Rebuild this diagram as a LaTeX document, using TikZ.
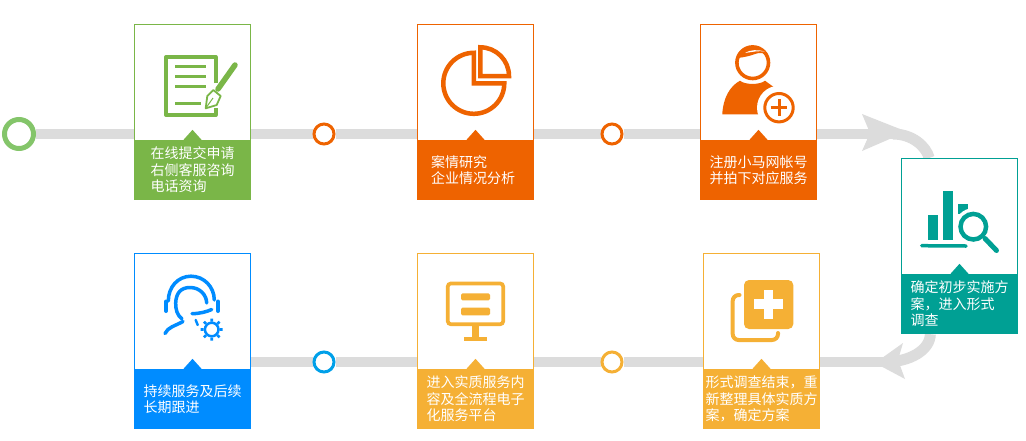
\documentclass[tikz,border=0pt]{standalone}
\usepackage{fontspec}
\usepackage{tikz}
\usetikzlibrary{backgrounds}
\setmainfont{Noto Sans CJK SC}
\definecolor{LeafGreen}{RGB}{122, 182, 72}
\definecolor{RingGreen}{RGB}{132, 197, 106}
\definecolor{CaseOrange}{RGB}{238, 99, 0}
\definecolor{SeaTeal}{RGB}{0, 160, 148}
\definecolor{SunAmber}{RGB}{245, 176, 53}
\definecolor{SkyBlue}{RGB}{0, 140, 255}
\definecolor{RingBlue}{RGB}{0, 160, 233}
\definecolor{TrackGrey}{RGB}{220, 220, 220}

\begin{document}
\begin{tikzpicture}[x=1pt, y=-1pt, line cap=butt]
    \tikzstyle{cardbox} = [rectangle, draw=#1, fill=white, line width=1pt, minimum width=116pt, minimum height=175pt, inner sep=0pt]
    \tikzstyle{cardfoot} = [rectangle, fill=#1, text=white, minimum width=117pt, minimum height=60pt, inner sep=0pt, align=left, font=\fontsize{14}{16.5}\selectfont]
    \tikzstyle{ringdot} = [circle, draw=#1, fill=white, line width=3pt, minimum size=20pt, inner sep=0pt]
    \tikzstyle{track} = [draw=TrackGrey, line width=10pt]
    \useasboundingbox (0,0) rectangle (1026,440);

    % stops on the two tracks
    \node [circle, draw=RingGreen, fill=white, line width=5pt, minimum size=29pt, inner sep=0pt] (start) at (19,134) {};
    \node [ringdot=CaseOrange] (stopa) at (324,134) {};
    \node [ringdot=CaseOrange] (stopb) at (612,134) {};
    \node [ringdot=SunAmber] (stopc) at (612,362) {};
    \node [ringdot=RingBlue] (stopd) at (324,362) {};

    % cards
    \node [cardbox=LeafGreen] (apply) at (192.5,112) {};
    \node [cardfoot=LeafGreen] (applyfoot) at (192.5,170) {在线提交申请\\右侧客服咨询\\电话资询};
    \node [cardbox=CaseOrange] (analyse) at (475.5,112) {};
    \node [cardfoot=CaseOrange] (analysefoot) at (475.5,170) {案情研究\\企业情况分析\hspace*{5pt}};
    \node [cardbox=CaseOrange] (register) at (758.5,112) {};
    \node [cardfoot=CaseOrange] (registerfoot) at (758.5,170) {注册小马网帐号\\并拍下对应服务};
    \node [cardbox=SeaTeal] (confirm) at (959.5,246) {};
    \node [cardfoot=SeaTeal] (confirmfoot) at (959.5,304) {确定初步实施方\\案，进入形式\\调查};
    \node [cardbox=SunAmber] (review) at (761.5,341) {};
    \node [cardfoot=SunAmber] (reviewfoot) at (761.5,399) {形式调查结束，重\\新整理具体实质方\\案，确定方案};
    \node [cardbox=SunAmber] (platform) at (475.5,341) {};
    \node [cardfoot=SunAmber] (platformfoot) at (475.5,399) {进入实质服务内\\容及全流程电子\\化服务平台};
    \node [cardbox=SkyBlue] (followup) at (192.5,341) {};
    \node [cardfoot=SkyBlue] (followupfoot) at (192.5,399) {持续服务及后续\\长期跟进};

    % tips on top of the feet
    \fill [LeafGreen] (applyfoot.north) ++(-9,0) -- ++(9,-10) -- ++(9,10) -- cycle;
    \fill [CaseOrange] (analysefoot.north) ++(-9,0) -- ++(9,-10) -- ++(9,10) -- cycle;
    \fill [CaseOrange] (registerfoot.north) ++(-9,0) -- ++(9,-10) -- ++(9,10) -- cycle;
    \fill [SeaTeal] (confirmfoot.north) ++(-9,0) -- ++(9,-10) -- ++(9,10) -- cycle;
    \fill [SunAmber] (reviewfoot.north) ++(-9,0) -- ++(9,-10) -- ++(9,10) -- cycle;
    \fill [SunAmber] (platformfoot.north) ++(-9,0) -- ++(9,-10) -- ++(9,10) -- cycle;
    \fill [SkyBlue] (followupfoot.north) ++(-9,0) -- ++(9,-10) -- ++(9,10) -- cycle;

    % tracks, behind everything
    \coordinate (turntop) at (893,134);
    \coordinate (turnlow) at (885,362);
    \begin{scope}[on background layer]
      \draw [track] (start) -- (stopa);
      \draw [track] (stopa) -- (stopb);
      \draw [track] (stopb) -- (turntop);
      \draw [track, line width=11pt] (turntop) .. controls (912,134) and (926,146) .. (confirm.109);
      \fill [TrackGrey] (862,114) -- (905,131) -- (892,138) -- (862,151) -- (870,133) -- cycle;
      \draw [track, line width=11pt] (confirmfoot.226) .. controls (930,350) and (910,362) .. (turnlow);
      \draw [track] (turnlow) -- (stopc);
      \draw [track] (stopc) -- (stopd);
      \draw [track] (stopd) -- (stopd -| followup.east);
      \fill [TrackGrey] (903,343) -- (875,363) -- (905,379) -- (898,360) -- cycle;
    \end{scope}

    % form and pen
    \draw [LeafGreen, line width=4pt, line join=round] (215.5,83) -- (215.5,57) -- (166,57) -- (166,115) -- (215.5,115) -- (215.5,108);
    \draw [LeafGreen, line width=3pt] (175,66.7) -- (205.7,66.7) (175,76.7) -- (205.7,76.7) (175,86.7) -- (205.7,86.7) (175,103.3) -- (201,103.3);
    \draw [LeafGreen, line width=5.5pt, line cap=round] (235,65) -- (218,89);
    \draw [LeafGreen, fill=white, line width=1.8pt, line join=round] (213.3,90) -- (220.7,96) -- (216.7,105) -- (205.7,108.3) -- (207.3,96) -- cycle;
    \draw [LeafGreen, line width=1pt] (205.7,108.3) -- (213,98);

    % pie chart
    \draw [CaseOrange, line width=4.5pt, line join=miter] (473.8,83.3) -- (473.8,52.8) arc [start angle=90, end angle=360, radius=30.5pt] -- cycle;
    \draw [CaseOrange, line width=4.5pt, line join=miter] (480.3,76) -- (480.3,47.3) arc [start angle=90, end angle=0, radius=28.7pt] -- cycle;

    % person with plus
    \draw [CaseOrange, line width=3.6pt] (752.7,62.7) circle [radius=15.8pt];
    \fill [CaseOrange] (738,58) .. controls (745,57) and (750,56) .. (755,54) .. controls (760,52) and (765,53) .. (767.5,56) .. controls (764,44) and (742,44) .. (738,58) -- cycle;
    \fill [white] (745,53) .. controls (750,49.5) and (758,49.5) .. (765,51.5) .. controls (758,50.5) and (752,52) .. (745,53) -- cycle;
    \fill [CaseOrange] (722.3,114.3) .. controls (723,98) and (730,86) .. (740,80.7) .. controls (745,85) and (760,85) .. (765,80.7) -- (775,88) -- (775,114.3) -- cycle;
    \fill [white] (779,107.7) circle [radius=22pt];
    \draw [CaseOrange, line width=3pt] (779,107.7) circle [radius=14.2pt];
    \draw [CaseOrange, line width=3pt] (770.7,107.7) -- (787.3,107.7) (779,99.4) -- (779,116);

    % bars and lens
    \fill [SeaTeal] (927.7,215) rectangle (938.3,240);
    \fill [SeaTeal] (943.3,190.7) rectangle (953.3,240);
    \fill [SeaTeal] (958.3,204.3) rectangle (968.3,214);
    \fill [white] (973.3,226.7) circle [radius=18.5pt];
    \draw [SeaTeal, line width=4.5pt] (973.3,226.7) circle [radius=12.8pt];
    \draw [SeaTeal, line width=5pt, line cap=round] (985,238.5) -- (996.5,250.5);
    \draw [SeaTeal, line width=3.5pt, line cap=round] (921.7,245.7) -- (966,246);

    % stacked plus
    \draw [SunAmber, line width=4pt, line cap=round, rounded corners=6pt] (739.5,295) -- (732.7,295) -- (732.7,340) -- (778,340) -- (778,333);
    \fill [SunAmber, rounded corners=5pt] (744,280) rectangle (793.3,329);
    \fill [white] (764,290) rectangle (773.3,319);
    \fill [white] (754.4,299.3) rectangle (783,309.3);

    % monitor
    \draw [SunAmber, line width=3.7pt, rounded corners=3pt] (447.8,283.5) rectangle (503.2,324.2);
    \fill [SunAmber, rounded corners=1.5pt] (461,293.3) rectangle (490,300.3);
    \fill [SunAmber, rounded corners=1.5pt] (461,307.7) rectangle (490,315.3);
    \fill [SunAmber] (471.7,326) rectangle (479.3,338);
    \fill [SunAmber] (464.3,337) rectangle (486.7,341);

    % headset and gear
    \draw [SkyBlue, line width=3.5pt, line cap=round] (168.3,301) .. controls (168.3,287) and (178,276.2) .. (191,276.2) .. controls (204,276.2) and (214.3,287) .. (214.3,300);
    \draw [SkyBlue, line width=4pt, line cap=round] (166,301.5) -- (166,311) (218,301.5) -- (218,311);
    \draw [SkyBlue, line width=3.5pt, line cap=round] (182,319) .. controls (177,315) and (175.5,309) .. (175.7,303) .. controls (176,293) and (181,287.5) .. (190,287.5) .. controls (200,287.5) and (206.5,295) .. (206.7,303);
    \draw [SkyBlue, line width=3.5pt, line cap=round] (183,321.5) .. controls (175,326) and (168,327) .. (165,333.5);
    \draw [SkyBlue, line width=3.5pt, line cap=round] (192,313.7) .. controls (200,313.5) and (206,312) .. (211.7,309.5);
    \draw [SkyBlue, line width=2.5pt, line cap=round] (195.7,320) -- (197.7,325);
    \draw [SkyBlue, line width=2.5pt] (211.7,329.5) circle [radius=6.8pt];
    \draw [SkyBlue, line width=2.7pt] (211.7,318.5) -- (211.7,321.5) (211.7,337.5) -- (211.7,340.5) (200.7,329.5) -- (203.7,329.5) (219.7,329.5) -- (222.7,329.5) (203.9,321.7) -- (206,323.8) (217.4,335.2) -- (219.5,337.3) (203.9,337.3) -- (206,335.2) (217.4,323.8) -- (219.5,321.7);
  \end{tikzpicture}
\end{document}
